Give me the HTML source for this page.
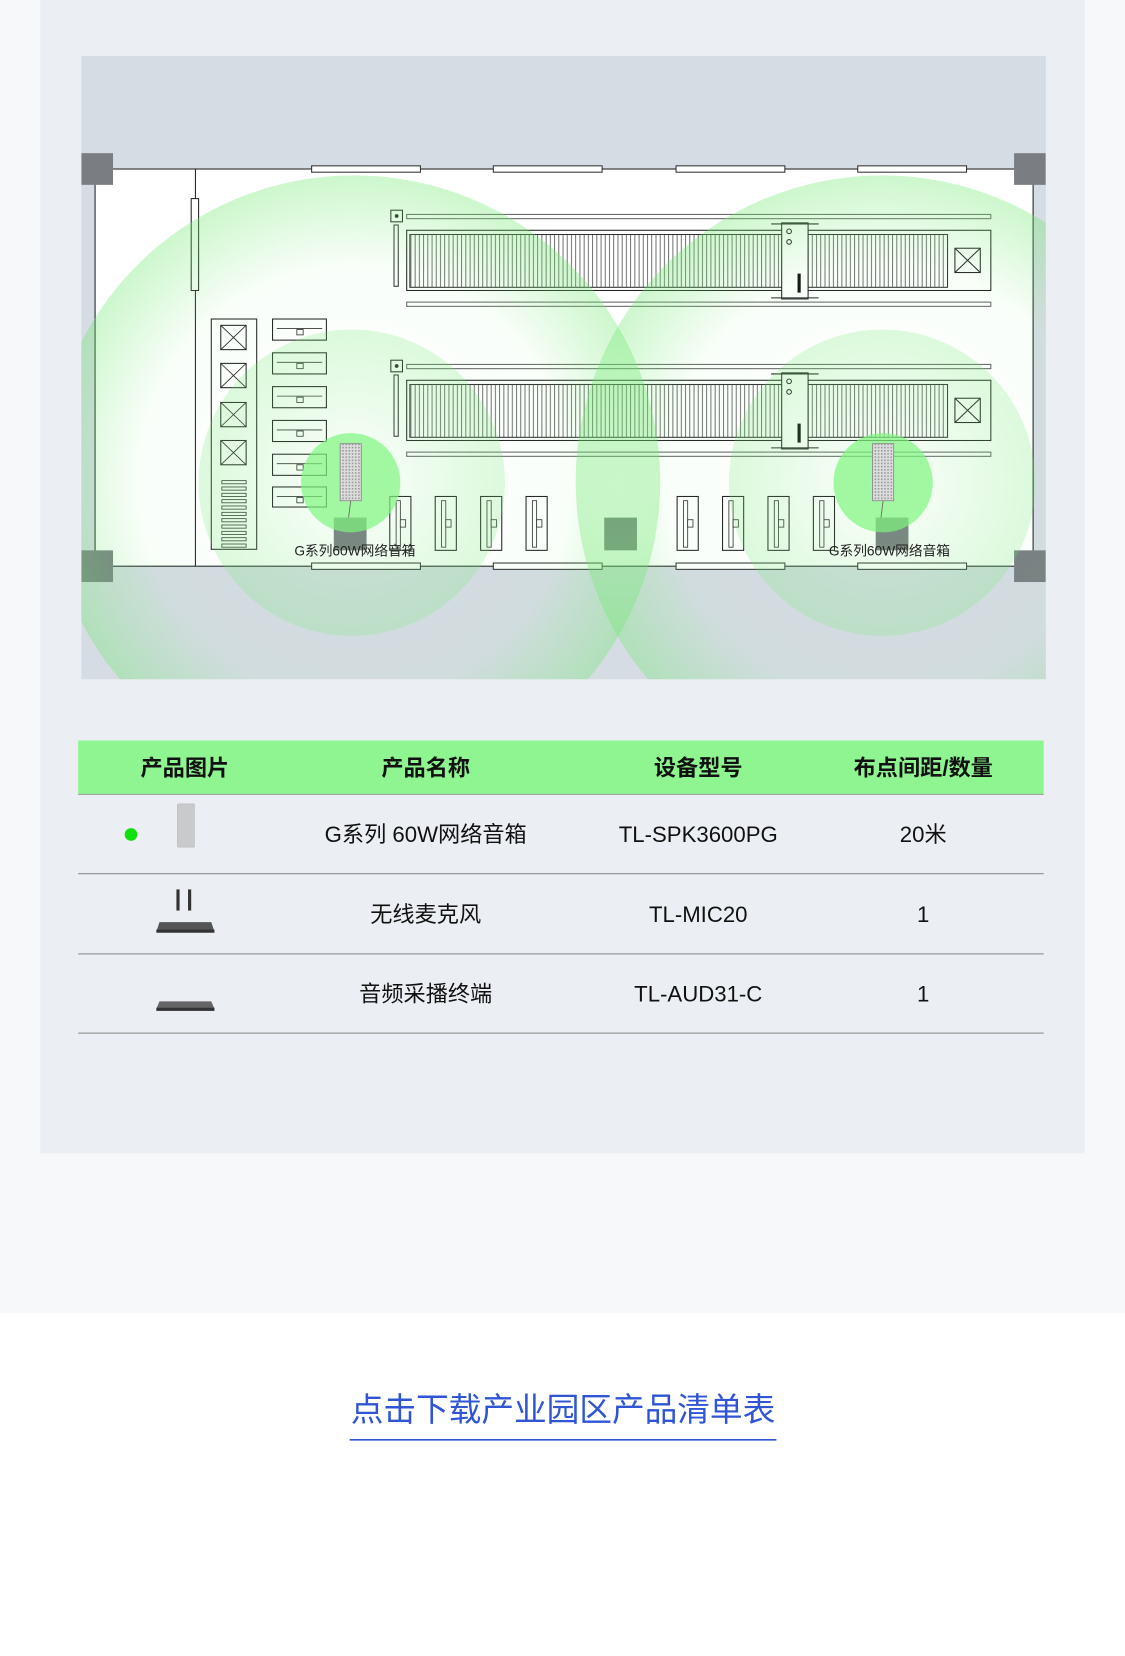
<!DOCTYPE html>
<html><head><meta charset="utf-8"><style>
html,body{margin:0;padding:0;background:#fff;}
svg{display:block;}
text{font-family:"Liberation Sans","Noto Sans CJK SC",sans-serif;}
</style></head><body>
<svg width="1125" height="1656" viewBox="0 0 1065 1567.7" xmlns="http://www.w3.org/2000/svg">
<defs>
<pattern id="hatch" width="4" height="10" patternUnits="userSpaceOnUse"><rect width="4" height="10" fill="#fff"/><line x1="1" y1="0" x2="1" y2="10" stroke="#555" stroke-width="0.8"/></pattern>
<pattern id="sp" width="3" height="3" patternUnits="userSpaceOnUse"><rect width="3" height="3" fill="#ddd"/><rect width="1.5" height="1.5" fill="#999"/></pattern>
<radialGradient id="g1"><stop offset="0" stop-color="#6fe86f" stop-opacity="0"/><stop offset="0.7" stop-color="#6fe86f" stop-opacity="0.04"/><stop offset="1" stop-color="#6fe86f" stop-opacity="0.35"/></radialGradient>
<radialGradient id="g2"><stop offset="0" stop-color="#6fe86f" stop-opacity="0.02"/><stop offset="1" stop-color="#6fe86f" stop-opacity="0.22"/></radialGradient>
<clipPath id="dc"><rect x="77" y="53" width="913" height="590"/></clipPath>
</defs>
<rect width="1065" height="1568" fill="#fff"/>
<rect width="1065" height="1243" fill="#f7f8fa"/>
<rect x="38" y="0" width="989" height="1092" fill="#ebeef2"/>
<rect x="77" y="53" width="913" height="590" fill="#d5dce3"/>
<g clip-path="url(#dc)">
<rect x="90" y="160" width="888" height="376" fill="#fff" stroke="#222" stroke-width="1"/>
<line x1="185" y1="160" x2="185" y2="536" stroke="#222"/>
<rect x="181" y="188" width="7" height="87" fill="#fff" stroke="#222"/>
<g fill="#fff" stroke="#333" stroke-width="1">
<rect x="295" y="157" width="103" height="6"/><rect x="467" y="157" width="103" height="6"/><rect x="640" y="157" width="103" height="6"/><rect x="812" y="157" width="103" height="6"/>
<rect x="295" y="533" width="103" height="6"/><rect x="467" y="533" width="103" height="6"/><rect x="640" y="533" width="103" height="6"/><rect x="812" y="533" width="103" height="6"/>
</g>
<g fill="#7a7e83"><rect x="77" y="145" width="30" height="30"/><rect x="960" y="145" width="30" height="30"/><rect x="77" y="521" width="30" height="30"/><rect x="960" y="521" width="30" height="30"/></g>
<rect x="200" y="302" width="43" height="218" fill="#fff" stroke="#222"/>
<g fill="#fff" stroke="#222">
<rect x="209" y="308" width="24" height="23"/><rect x="209" y="344" width="24" height="23"/><rect x="209" y="381" width="24" height="23"/><rect x="209" y="417" width="24" height="23"/>
</g>
<g stroke="#222" stroke-width="0.8">
<path d="M209 308L233 331M233 308L209 331M209 344L233 367M233 344L209 367M209 381L233 404M233 381L209 404M209 417L233 440M233 417L209 440"/>
</g>
<g fill="none" stroke="#333" stroke-width="0.8">
<rect x="210" y="455" width="23" height="3"/><rect x="210" y="461" width="23" height="3"/><rect x="210" y="467" width="23" height="3"/><rect x="210" y="473" width="23" height="3"/><rect x="210" y="479" width="23" height="3"/><rect x="210" y="485" width="23" height="3"/><rect x="210" y="491" width="23" height="3"/><rect x="210" y="497" width="23" height="3"/><rect x="210" y="503" width="23" height="3"/><rect x="210" y="509" width="23" height="3"/><rect x="210" y="515" width="23" height="3"/>
</g>
<g fill="#fff" stroke="#222">
<rect x="258" y="302" width="51" height="20"/><rect x="258" y="334" width="51" height="20"/><rect x="258" y="366" width="51" height="20"/><rect x="258" y="398" width="51" height="20"/><rect x="258" y="430" width="51" height="20"/><rect x="258" y="461" width="51" height="19"/>
</g>
<g stroke="#333" stroke-width="0.8" fill="#fff">
<path d="M262 311H305M262 343H305M262 375H305M262 407H305M262 439H305M262 470H305"/>
<rect x="281" y="312" width="6" height="5"/><rect x="281" y="344" width="6" height="5"/><rect x="281" y="376" width="6" height="5"/><rect x="281" y="408" width="6" height="5"/><rect x="281" y="440" width="6" height="5"/><rect x="281" y="471" width="6" height="5"/>
</g>
<g id="esc">
<rect x="370" y="199" width="11" height="11" fill="#fff" stroke="#222"/><circle cx="375.5" cy="204.5" r="1.8" fill="#222"/>
<rect x="373" y="213" width="4" height="58" fill="#fff" stroke="#333"/>
<rect x="385" y="203" width="553" height="4" fill="#fff" stroke="#666"/>
<rect x="385" y="218" width="553" height="57" fill="#fff" stroke="#222"/>
<rect x="388" y="222" width="509" height="50" fill="url(#hatch)" stroke="#333"/>
<rect x="904" y="235" width="24" height="23" fill="#fff" stroke="#222"/>
<path d="M904 235L928 258M928 235L904 258" stroke="#222"/>
<rect x="740" y="211" width="25" height="72" fill="#fff" stroke="#222"/>
<path d="M730 212H775M730 282H775" stroke="#222"/>
<circle cx="747" cy="219" r="2.2" fill="none" stroke="#222"/><circle cx="747" cy="229" r="2.2" fill="none" stroke="#222"/>
<rect x="755" y="259" width="3" height="18" fill="#111"/>
<rect x="385" y="286" width="553" height="4" fill="#fff" stroke="#666"/>
</g>
<use href="#esc" y="142"/>
<g fill="#fff" stroke="#222">
<rect x="369" y="470" width="20" height="51"/><rect x="412" y="470" width="20" height="51"/><rect x="455" y="470" width="20" height="51"/><rect x="498" y="470" width="20" height="51"/>
<rect x="641" y="470" width="20" height="51"/><rect x="684" y="470" width="20" height="51"/><rect x="727" y="470" width="20" height="51"/><rect x="770" y="470" width="20" height="51"/>
</g>
<g fill="#fff" stroke="#333" stroke-width="0.8">
<rect x="375" y="474" width="4" height="44"/><rect x="418" y="474" width="4" height="44"/><rect x="461" y="474" width="4" height="44"/><rect x="504" y="474" width="4" height="44"/>
<rect x="647" y="474" width="4" height="44"/><rect x="690" y="474" width="4" height="44"/><rect x="733" y="474" width="4" height="44"/><rect x="776" y="474" width="4" height="44"/>
<rect x="379" y="492" width="5" height="7"/><rect x="422" y="492" width="5" height="7"/><rect x="465" y="492" width="5" height="7"/><rect x="508" y="492" width="5" height="7"/>
<rect x="651" y="492" width="5" height="7"/><rect x="694" y="492" width="5" height="7"/><rect x="737" y="492" width="5" height="7"/><rect x="780" y="492" width="5" height="7"/>
</g>
<rect x="572" y="490" width="31" height="31" fill="#7a7e83"/>
<rect x="316" y="490" width="31" height="31" fill="#7a7e83"/>
<rect x="829" y="490" width="31" height="31" fill="#7a7e83"/>
<circle cx="335" cy="456" r="290" fill="url(#g1)"/>
<circle cx="835" cy="456" r="290" fill="url(#g1)"/>
<circle cx="333" cy="457" r="145" fill="url(#g2)"/>
<circle cx="835" cy="457" r="145" fill="url(#g2)"/>
<circle cx="332" cy="457" r="47" fill="#7ef57e" fill-opacity="0.7"/>
<circle cx="836" cy="457" r="47" fill="#7ef57e" fill-opacity="0.7"/>
<rect x="322" y="420" width="20" height="54" fill="url(#sp)" stroke="#888" stroke-width="0.8"/>
<rect x="826" y="420" width="20" height="54" fill="url(#sp)" stroke="#888" stroke-width="0.8"/>
<path d="M332 474L330 490M836 474L834 490" stroke="#666" stroke-width="0.8"/>
<text x="336" y="526" font-size="13" text-anchor="middle" fill="#222">G系列60W网络音箱</text>
<text x="842" y="526" font-size="13" text-anchor="middle" fill="#222">G系列60W网络音箱</text>
</g>
<rect x="74" y="701" width="914" height="51" fill="#8ef590"/>
<line x1="74" y1="752" x2="988" y2="752" stroke="#999"/>
<g font-size="21" font-weight="bold" fill="#111" text-anchor="middle">
<text x="175" y="734">产品图片</text><text x="403" y="734">产品名称</text><text x="661" y="734">设备型号</text><text x="874" y="734">布点间距/数量</text>
</g>
<g font-size="21" fill="#111" text-anchor="middle">
<text x="403" y="797">G系列 60W网络音箱</text><text x="661" y="797">TL-SPK3600PG</text><text x="874" y="797">20米</text>
<text x="403" y="873">无线麦克风</text><text x="661" y="873">TL-MIC20</text><text x="874" y="873">1</text>
<text x="403" y="948">音频采播终端</text><text x="661" y="948">TL-AUD31-C</text><text x="874" y="948">1</text>
</g>
<g stroke="#999" stroke-width="1.2"><line x1="74" y1="827" x2="988" y2="827"/><line x1="74" y1="903" x2="988" y2="903"/><line x1="74" y1="978" x2="988" y2="978"/></g>
<circle cx="124" cy="790" r="6" fill="#10e010"/>
<rect x="168" y="761" width="16" height="41" rx="1" fill="#c9cacc" stroke="#b0b0b0" stroke-width="0.5"/>
<rect x="167" y="842" width="3" height="20" fill="#333"/><rect x="178" y="842" width="3" height="20" fill="#333"/>
<path d="M151 873H200L203 882H148Z" fill="#555"/><rect x="148" y="880" width="55" height="3" fill="#333"/>
<path d="M151 948H200L203 955H148Z" fill="#666"/><rect x="148" y="954" width="55" height="3" fill="#333"/>
<text x="533" y="1345" font-size="31" fill="#2f55d4" text-anchor="middle" textLength="402">点击下载产业园区产品清单表</text>
<line x1="331" y1="1363" x2="735" y2="1363" stroke="#2f55d4" stroke-width="1.5"/>
</svg>
</body></html>
